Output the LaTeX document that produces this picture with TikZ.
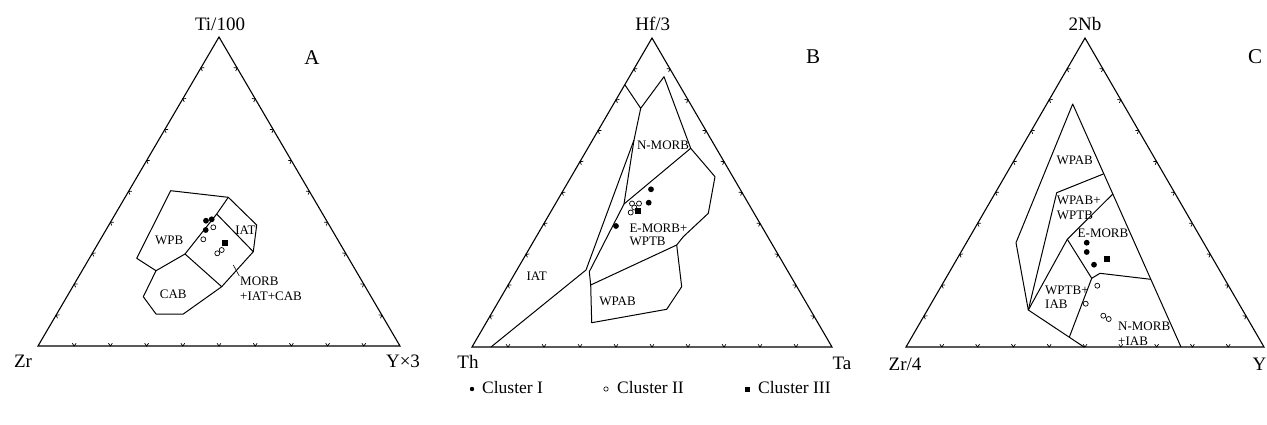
\documentclass[tikz,border=0pt]{standalone}
\usepackage{fontspec}
\setmainfont{Liberation Serif}
\usetikzlibrary{calc}
\newcommand\ternframe[3]{%
  \draw[frame] (#1)--(#2)--(#3)--cycle;
  \foreach \ea/\eb in {#1/#2,#2/#3,#3/#1}{%
    \foreach \i in {1,...,9}{%
      \coordinate (tk) at ($(\ea)!\i/10!(\eb)$);
      \draw[tickmark] ($(tk)!3.4pt!55:(\eb)$) -- (tk) -- ($(tk)!3.4pt!125:(\eb)$);
    }%
  }%
}
\begin{document}
\begin{tikzpicture}[x=1pt,y=-1pt,
  frame/.style={line width=1.1pt, line join=miter},
  tickmark/.style={line width=0.7pt},
  field/.style={line width=1pt, line join=round},
  corner/.style={font=\fontsize{19}{22}\selectfont, inner sep=0pt},
  flab/.style={font=\fontsize{13}{15}\selectfont, inner sep=0pt},
  panel/.style={font=\fontsize{21}{24}\selectfont, inner sep=0pt},
  leg/.style={font=\fontsize{17.5}{20}\selectfont, inner sep=0pt, anchor=west},
  fdot/.style={circle, fill=black, inner sep=0pt, minimum size=5.8pt},
  odot/.style={circle, draw=black, line width=0.7pt, fill=white, inner sep=0pt, minimum size=5pt},
  sq/.style={rectangle, fill=black, inner sep=0pt, minimum size=5.8pt},
  lfdot/.style={circle, fill=black, inner sep=0pt, minimum size=4.4pt},
  lodot/.style={circle, draw=black, line width=0.6pt, inner sep=0pt, minimum size=4.4pt},
  lsq/.style={rectangle, fill=black, inner sep=0pt, minimum size=5pt}]
\useasboundingbox[fill=white] (0,0) rectangle (1267,424);

% ---------------- Panel A ----------------
\coordinate (AL) at (38,346);
\coordinate (AR) at (400,346);
\coordinate (AT) at (219,37);
\ternframe{AL}{AR}{AT}
\draw[field] (170.7,190.7) -- (228.3,197.3) -- (256.7,225) -- (253.3,251.7) -- (221.7,286.7)
  -- (183.3,314) -- (156,314) -- (143.3,296.7) -- (156,270.7) -- (136.7,258.3) -- cycle;
\draw[field] (228.3,197.3) -- (216.7,214) -- (185,254);
\draw[field] (216.7,214) -- (253.3,251.7);
\draw[field] (156,270.7) -- (185,254) -- (221.7,286.7);
\draw[line width=0.6pt] (233.3,265) -- (239.3,276);
\node[corner] (tA) at (220,24) {Ti/100};
\node[corner] (lA) at (23,361) {Zr};
\node[corner] (rA) at (403,361) {Y×3};
\node[panel] (pA) at (312,58) {A};
\node[flab] (wpbA) at (169.3,240) {WPB};
\node[flab] (iatA) at (245.5,230) {IAT};
\node[flab] (cabA) at (173.3,294.3) {CAB};
\node[flab, anchor=west] (morbA) at (240,281.7) {MORB};
\node[flab, anchor=west] (morbA2) at (240,296.7) {+IAT+CAB};
\node[fdot] (a1) at (206,220.7) {};
\node[fdot] (a2) at (211.7,219.3) {};
\node[fdot] (a3) at (205.7,230) {};
\node[odot] (a4) at (213.3,227.3) {};
\node[odot] (a5) at (203.3,239.3) {};
\node[odot] (a6) at (221.7,250) {};
\node[odot] (a7) at (217.3,253.3) {};
\node[sq] (a8) at (225,242.7) {};

% ---------------- Panel B ----------------
\coordinate (BL) at (472,347);
\coordinate (BR) at (832,347);
\coordinate (BT) at (652,38);
\ternframe{BL}{BR}{BT}
\draw[field] (625,85) -- (640.7,108.3) -- (664,76.7) -- (690.7,148.3) -- (715,176.7) -- (708.3,213.3)
  -- (683.3,236.7) -- (676.7,245) -- (681.7,286.7) -- (666.7,309.3) -- (591.7,322.7) -- (590.7,285)
  -- (589.3,271.7) -- (624,204) -- (634,140) -- (640.7,108.3);
\draw[field] (634,140) -- (586,270) -- (491,347);
\draw[field] (624,204) -- (690.7,148.3);
\draw[field] (590.7,285) -- (676.7,245);
\node[corner] (tB) at (652.7,24) {Hf/3};
\node[corner] (lB) at (468,362) {Th};
\node[corner] (rB) at (842,363) {Ta};
\node[panel] (pB) at (813,57) {B};
\node[flab] (nmB) at (663,145) {N-MORB};
\node[flab, anchor=west] (emB) at (629.3,228.3) {E-MORB+};
\node[flab, anchor=west] (emB2) at (629.3,241.7) {WPTB};
\node[flab] (iatB) at (536.7,276) {IAT};
\node[flab] (wpabB) at (617.5,301.7) {WPAB};
\node[fdot] (b1) at (651,189.3) {};
\node[fdot] (b2) at (648.7,202.7) {};
\node[fdot] (b3) at (616,226) {};
\node[odot] (b4) at (632,203.5) {};
\node[odot] (b5) at (639,203.5) {};
\node[odot] (b6) at (634.3,207.5) {};
\node[odot] (b7) at (630.7,212.5) {};
\node[sq] (b8) at (637.7,210.7) {};

% ---------------- Panel C ----------------
\coordinate (CL) at (906,347);
\coordinate (CR) at (1264,347);
\coordinate (CT) at (1085,38);
\ternframe{CL}{CR}{CT}
\draw[field] (1181,347) -- (1072.7,104) -- (1016,242.7) -- (1028.3,310) -- (1084,347);
\draw[field] (1103.3,174) -- (1056.7,192.7) -- (1028.3,310);
\draw[field] (1112.8,194) -- (1067.3,239.3) -- (1028.3,310);
\draw[field] (1067.3,239.3) -- (1091.7,278.3) -- (1100,273.3) -- (1150.8,279.3);
\draw[field] (1091.7,278.3) -- (1069.3,337.2);
\node[corner] (tC) at (1085,24) {2Nb};
\node[corner] (lC) at (905,364) {Zr/4};
\node[corner, anchor=east] (rC) at (1266.5,364) {Y};
\node[panel] (pC) at (1255,57) {C};
\node[flab] (wpabC) at (1074.7,160) {WPAB};
\node[flab, anchor=west] (wwC) at (1056.7,200) {WPAB+};
\node[flab, anchor=west] (wwC2) at (1056.7,215) {WPTB};
\node[flab] (emC) at (1103,233.3) {E-MORB};
\node[flab, anchor=west] (wiC) at (1045,290) {WPTB+};
\node[flab, anchor=west] (wiC2) at (1045,304.3) {IAB};
\node[flab, anchor=west] (nmC) at (1118,326.7) {N-MORB};
\node[flab, anchor=west] (nmC2) at (1118,341) {+IAB};
\node[fdot] (c1) at (1086.7,242.7) {};
\node[fdot] (c2) at (1086.7,252) {};
\node[fdot] (c3) at (1094,264.7) {};
\node[sq] (c4) at (1107.3,259) {};
\node[odot] (c5) at (1097.3,285.7) {};
\node[odot] (c6) at (1085.7,303.7) {};
\node[odot] (c7) at (1103.3,315.7) {};
\node[odot] (c8) at (1108.7,319) {};

% ---------------- Legend ----------------
\node[lfdot] (g1) at (472,389) {};
\node[leg] (g1t) at (482,388) {Cluster I};
\node[lodot] (g2) at (606,389) {};
\node[leg] (g2t) at (617,388) {Cluster II};
\node[lsq] (g3) at (747,389) {};
\node[leg] (g3t) at (758,388) {Cluster III};
\end{tikzpicture}
\end{document}
